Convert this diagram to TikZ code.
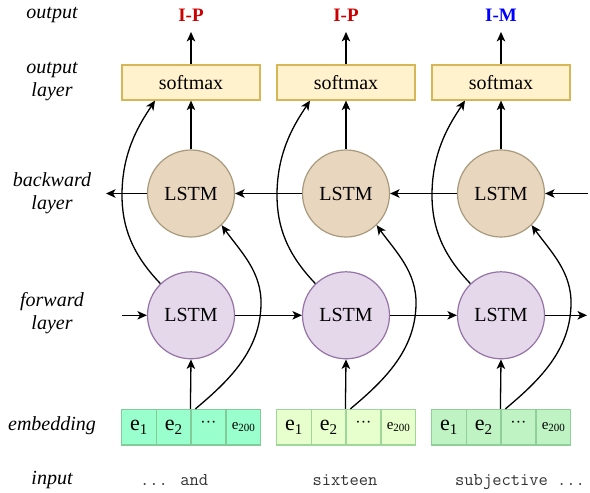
\documentclass[tikz,border=0pt]{standalone}
\usepackage{fontspec}
\setmainfont{Liberation Serif}
\usetikzlibrary{arrows.meta}
\definecolor{smxf}{HTML}{FFF2CC}
\definecolor{smxd}{HTML}{D6B656}
\definecolor{bwf}{HTML}{E8D6BE}
\definecolor{bwd}{HTML}{A89A7C}
\definecolor{fwf}{HTML}{E4D8EA}
\definecolor{fwd}{HTML}{9673A6}
\definecolor{embAf}{HTML}{99FFCC}
\definecolor{embAd}{HTML}{82CC99}
\definecolor{embBf}{HTML}{E6FFCC}
\definecolor{embBd}{HTML}{9FD69A}
\definecolor{embCf}{HTML}{BFF3C3}
\definecolor{embCd}{HTML}{8FCF98}
\definecolor{outred}{HTML}{CC0000}
\definecolor{outblue}{HTML}{0000FF}
\newcommand{\myesub}[1]{e{\fontsize{15}{15}\selectfont\raisebox{-0.28em}{#1}}}
\newcommand{\myebig}{{\fontsize{15}{15}\selectfont e{\fontsize{11}{11}\selectfont\raisebox{-0.2em}{200}}}}
\begin{document}
\begin{tikzpicture}[x=1pt,y=-1pt,
  lbl/.style={font=\fontsize{20}{23}\selectfont\itshape, align=center},
  smx/.style={draw=smxd, fill=smxf, line width=1.2pt, minimum width=138pt, minimum height=35pt, inner sep=0pt, font=\fontsize{20}{20}\selectfont},
  bwc/.style={circle, draw=bwd, fill=bwf, line width=1.2pt, minimum size=87pt, inner sep=0pt, font=\fontsize{20}{20}\selectfont},
  fwc/.style={circle, draw=fwd, fill=fwf, line width=1.2pt, minimum size=87pt, inner sep=0pt, font=\fontsize{20}{20}\selectfont},
  cell/.style={line width=1.2pt, minimum width=34.9pt, minimum height=35.5pt, inner sep=0pt, font=\fontsize{22}{22}\selectfont},
  conn/.style={line width=1.3pt, -{Stealth[length=9.5pt,width=8.5pt,inset=2.5pt]}},
  outl/.style={font=\fontsize{19}{19}\selectfont\bfseries, inner ysep=0pt},
  inp/.style={font=\fontsize{18}{18}\selectfont\ttfamily, text=black!80, inner sep=0pt}
]
\fill[white] (0,0) rectangle (590,493);
\useasboundingbox (0,0) rectangle (590,493);

% left labels
\node[lbl] (Lout) at (52,15) {output};
\node[lbl] (Lol) at (52,82) {output\\layer};
\node[lbl] (Lbw) at (52,193.5) {backward\\layer};
\node[lbl] (Lfw) at (52,313.5) {forward\\layer};
\node[lbl] (Lemb) at (52,426) {embedding};
\node[lbl] (Linp) at (52,480) {input};

% columns
\foreach \i/\x/\ef/\ed/\oc/\ot in {1/191/embAf/embAd/outred/I-P, 2/346/embBf/embBd/outred/I-P, 3/501/embCf/embCd/outblue/I-M}{
  \node[outl, text=\oc] (o\i) at (\x,15.5) {\ot};
  \node[smx] (sm\i) at (\x,82.5) {softmax};
  \node[bwc] (bw\i) at (\x,193.5) {LSTM};
  \node[fwc] (fw\i) at (\x,315.3) {LSTM};
  \node[cell, draw=\ed, fill=\ef] (c\i a) at ({\x-52.35},427.2) {\myesub{1}};
  \node[cell, draw=\ed, fill=\ef] (c\i b) at ({\x-17.45},427.2) {\myesub{2}};
  \node[cell, draw=\ed, fill=\ef] (c\i c) at ({\x+17.45},427.2) {{\fontsize{16}{16}\selectfont\raisebox{0.3em}{···}}};
  \node[cell, draw=\ed, fill=\ef] (c\i d) at ({\x+52.35},427.2) {\myebig};
  % vertical connectors
  \draw[conn, shorten >=10pt] (sm\i.north) -- (o\i.south);
  \draw[conn] (bw\i.north) -- (sm\i.south);
  \draw[conn] (c\i c.north west) -- (fw\i.south);
  % skip curves
  \draw[conn] (fw\i.134) .. controls ({\x-58},255) and ({\x-69},228) .. ({\x-69},195)
     .. controls ({\x-69},150) and ({\x-50},122) .. ([xshift=-36pt]sm\i.south);
  \draw[conn] ([xshift=5pt]c\i c.north west) .. controls ({\x+39},380) and ({\x+69},350) .. ({\x+70},305)
     .. controls ({\x+71},272) and ({\x+50},252) .. (bw\i.-46);
}

% horizontal chains
\coordinate (rin) at (588,193.5);
\coordinate (lout) at (106,193.5);
\coordinate (fin) at (122,315.3);
\coordinate (fout) at (587,315.3);
\draw[conn] (rin) -- (bw3.east);
\draw[conn] (bw3.west) -- (bw2.east);
\draw[conn] (bw2.west) -- (bw1.east);
\draw[conn] (bw1.west) -- (lout);
\draw[conn] (fin) -- (fw1.west);
\draw[conn] (fw1.east) -- (fw2.west);
\draw[conn] (fw2.east) -- (fw3.west);
\draw[conn] (fw3.east) -- (fout);

% input words
\node[inp, anchor=base west] (w1) at (140,485) {... and};
\node[inp, anchor=base] (w2) at (345,485) {sixteen};
\node[inp, anchor=base west] (w3) at (455,485) {subjective ...};
\end{tikzpicture}
\end{document}
